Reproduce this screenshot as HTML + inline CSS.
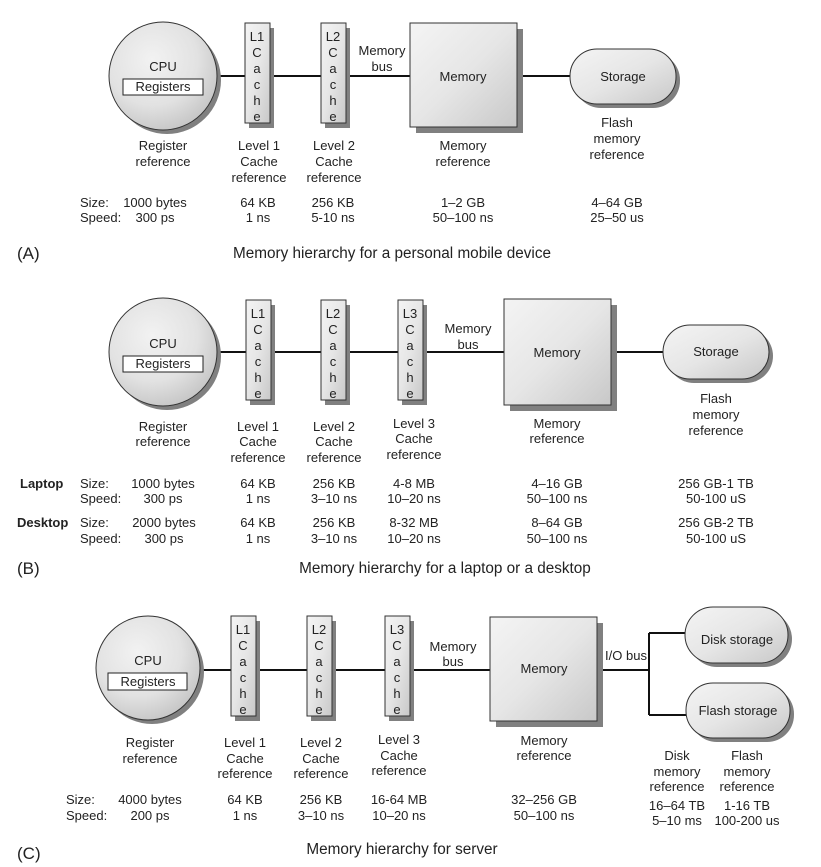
<!DOCTYPE html>
<html><head><meta charset="utf-8"><style>
html,body{margin:0;padding:0;background:#fff;}
svg{display:block;font-family:"Liberation Sans",Arial,sans-serif;}
text{font-size:13px;fill:#222;text-anchor:middle;}
.l{text-anchor:start;}
.b{font-weight:bold;}
.big{font-size:17px;}
.cap{font-size:15.3px;}
</style></head><body>
<svg width="821" height="867" viewBox="0 0 821 867" xmlns="http://www.w3.org/2000/svg">
<defs>
<linearGradient id="g" x1="0" y1="0" x2="1" y2="1">
<stop offset="0" stop-color="#f4f4f4"/><stop offset="0.5" stop-color="#e6e6e6"/><stop offset="1" stop-color="#c8c8c8"/>
</linearGradient>
<radialGradient id="rg" cx="0.4" cy="0.35" r="0.7">
<stop offset="0" stop-color="#f2f2f2"/><stop offset="0.6" stop-color="#e2e2e2"/><stop offset="1" stop-color="#c4c4c4"/>
</radialGradient>
</defs>
<g stroke="#111" stroke-width="2" fill="none">
<line x1="216" y1="76" x2="570" y2="76"/>
<line x1="216" y1="352" x2="663" y2="352"/>
<line x1="200" y1="670" x2="649" y2="670"/>
<polyline points="649,633 649,715"/>
<line x1="649" y1="633" x2="686" y2="633"/>
<line x1="649" y1="715" x2="686" y2="715"/>
</g>

<!-- ===== Panel A ===== -->
<circle cx="167" cy="80" r="54" fill="#808080"/>
<circle cx="163" cy="76" r="54" fill="url(#rg)" stroke="#333" stroke-width="1"/>
<rect x="123" y="79" width="80" height="16" fill="#fff" stroke="#222"/>
<text x="163" y="71">CPU</text><text x="163" y="91">Registers</text>

<rect x="249" y="28" width="25" height="100" fill="#808080"/>
<rect x="245" y="23" width="25" height="100" fill="url(#g)" stroke="#333"/>
<text x="257" y="41">L1</text><text x="257" y="57">C</text><text x="257" y="73">a</text><text x="257" y="89">c</text><text x="257" y="105">h</text><text x="257" y="121">e</text>
<rect x="325" y="28" width="25" height="100" fill="#808080"/>
<rect x="321" y="23" width="25" height="100" fill="url(#g)" stroke="#333"/>
<text x="333" y="41">L2</text><text x="333" y="57">C</text><text x="333" y="73">a</text><text x="333" y="89">c</text><text x="333" y="105">h</text><text x="333" y="121">e</text>
<text x="382" y="55">Memory</text><text x="382" y="71">bus</text>

<rect x="416" y="29" width="107" height="104" fill="#808080"/>
<rect x="410" y="23" width="107" height="104" fill="url(#g)" stroke="#333"/>
<text x="463" y="81">Memory</text>

<rect x="574" y="53" width="106" height="55" rx="27" fill="#808080"/>
<rect x="570" y="49" width="106" height="55" rx="27" fill="url(#g)" stroke="#333"/>
<text x="623" y="81">Storage</text>

<text x="163" y="150">Register</text><text x="163" y="166">reference</text>
<text x="259" y="150">Level 1</text><text x="259" y="166">Cache</text><text x="259" y="182">reference</text>
<text x="334" y="150">Level 2</text><text x="334" y="166">Cache</text><text x="334" y="182">reference</text>
<text x="463" y="150">Memory</text><text x="463" y="166">reference</text>
<text x="617" y="127">Flash</text><text x="617" y="143">memory</text><text x="617" y="159">reference</text>
<text class="l" x="80" y="207">Size:</text><text class="l" x="80" y="222">Speed:</text>
<text x="155" y="207">1000 bytes</text><text x="155" y="222">300 ps</text>
<text x="258" y="207">64 KB</text><text x="258" y="222">1 ns</text>
<text x="333" y="207">256 KB</text><text x="333" y="222">5-10 ns</text>
<text x="463" y="207">1–2 GB</text><text x="463" y="222">50–100 ns</text>
<text x="617" y="207">4–64 GB</text><text x="617" y="222">25–50 us</text>
<text class="l big" x="17" y="259">(A)</text>
<text class="cap" x="392" y="258">Memory hierarchy for a personal mobile device</text>

<!-- ===== Panel B ===== -->
<circle cx="167" cy="356" r="54" fill="#808080"/>
<circle cx="163" cy="352" r="54" fill="url(#rg)" stroke="#333" stroke-width="1"/>
<rect x="123" y="356" width="80" height="16" fill="#fff" stroke="#222"/>
<text x="163" y="348">CPU</text><text x="163" y="368">Registers</text>

<rect x="250" y="305" width="25" height="100" fill="#808080"/>
<rect x="246" y="300" width="25" height="100" fill="url(#g)" stroke="#333"/>
<text x="258" y="318">L1</text><text x="258" y="334">C</text><text x="258" y="350">a</text><text x="258" y="366">c</text><text x="258" y="382">h</text><text x="258" y="398">e</text>
<rect x="325" y="305" width="25" height="100" fill="#808080"/>
<rect x="321" y="300" width="25" height="100" fill="url(#g)" stroke="#333"/>
<text x="333" y="318">L2</text><text x="333" y="334">C</text><text x="333" y="350">a</text><text x="333" y="366">c</text><text x="333" y="382">h</text><text x="333" y="398">e</text>
<rect x="402" y="305" width="25" height="100" fill="#808080"/>
<rect x="398" y="300" width="25" height="100" fill="url(#g)" stroke="#333"/>
<text x="410" y="318">L3</text><text x="410" y="334">C</text><text x="410" y="350">a</text><text x="410" y="366">c</text><text x="410" y="382">h</text><text x="410" y="398">e</text>
<text x="468" y="333">Memory</text><text x="468" y="349">bus</text>

<rect x="510" y="305" width="107" height="106" fill="#808080"/>
<rect x="504" y="299" width="107" height="106" fill="url(#g)" stroke="#333"/>
<text x="557" y="357">Memory</text>

<rect x="667" y="329" width="106" height="54" rx="27" fill="#808080"/>
<rect x="663" y="325" width="106" height="54" rx="27" fill="url(#g)" stroke="#333"/>
<text x="716" y="356">Storage</text>

<text x="163" y="431">Register</text><text x="163" y="446">reference</text>
<text x="258" y="431">Level 1</text><text x="258" y="446">Cache</text><text x="258" y="462">reference</text>
<text x="334" y="431">Level 2</text><text x="334" y="446">Cache</text><text x="334" y="462">reference</text>
<text x="414" y="428">Level 3</text><text x="414" y="443">Cache</text><text x="414" y="459">reference</text>
<text x="557" y="428">Memory</text><text x="557" y="443">reference</text>
<text x="716" y="403">Flash</text><text x="716" y="419">memory</text><text x="716" y="435">reference</text>
<text class="l b" x="20" y="488">Laptop</text>
<text class="l" x="80" y="488">Size:</text><text class="l" x="80" y="503">Speed:</text>
<text x="163" y="488">1000 bytes</text><text x="163" y="503">300 ps</text>
<text x="258" y="488">64 KB</text><text x="258" y="503">1 ns</text>
<text x="334" y="488">256 KB</text><text x="334" y="503">3–10 ns</text>
<text x="414" y="488">4-8 MB</text><text x="414" y="503">10–20 ns</text>
<text x="557" y="488">4–16 GB</text><text x="557" y="503">50–100 ns</text>
<text x="716" y="488">256 GB-1 TB</text><text x="716" y="503">50-100 uS</text>
<text class="l b" x="17" y="527">Desktop</text>
<text class="l" x="80" y="527">Size:</text><text class="l" x="80" y="543">Speed:</text>
<text x="164" y="527">2000 bytes</text><text x="164" y="543">300 ps</text>
<text x="258" y="527">64 KB</text><text x="258" y="543">1 ns</text>
<text x="334" y="527">256 KB</text><text x="334" y="543">3–10 ns</text>
<text x="414" y="527">8-32  MB</text><text x="414" y="543">10–20 ns</text>
<text x="557" y="527">8–64 GB</text><text x="557" y="543">50–100 ns</text>
<text x="716" y="527">256 GB-2 TB</text><text x="716" y="543">50-100 uS</text>
<text class="l big" x="17" y="574">(B)</text>
<text class="cap" x="445" y="573">Memory hierarchy for a laptop or a desktop</text>

<!-- ===== Panel C ===== -->
<circle cx="152" cy="672" r="52" fill="#808080"/>
<circle cx="148" cy="668" r="52" fill="url(#rg)" stroke="#333" stroke-width="1"/>
<rect x="108" y="673" width="79" height="17" fill="#fff" stroke="#222"/>
<text x="148" y="665">CPU</text><text x="148" y="686">Registers</text>

<rect x="235" y="621" width="25" height="100" fill="#808080"/>
<rect x="231" y="616" width="25" height="100" fill="url(#g)" stroke="#333"/>
<text x="243" y="634">L1</text><text x="243" y="650">C</text><text x="243" y="666">a</text><text x="243" y="682">c</text><text x="243" y="698">h</text><text x="243" y="714">e</text>
<rect x="311" y="621" width="25" height="100" fill="#808080"/>
<rect x="307" y="616" width="25" height="100" fill="url(#g)" stroke="#333"/>
<text x="319" y="634">L2</text><text x="319" y="650">C</text><text x="319" y="666">a</text><text x="319" y="682">c</text><text x="319" y="698">h</text><text x="319" y="714">e</text>
<rect x="389" y="621" width="25" height="100" fill="#808080"/>
<rect x="385" y="616" width="25" height="100" fill="url(#g)" stroke="#333"/>
<text x="397" y="634">L3</text><text x="397" y="650">C</text><text x="397" y="666">a</text><text x="397" y="682">c</text><text x="397" y="698">h</text><text x="397" y="714">e</text>
<text x="453" y="651">Memory</text><text x="453" y="666">bus</text>

<rect x="496" y="623" width="107" height="104" fill="#808080"/>
<rect x="490" y="617" width="107" height="104" fill="url(#g)" stroke="#333"/>
<text x="544" y="673">Memory</text>
<text x="626" y="660">I/O bus</text>

<rect x="689" y="611" width="103" height="56" rx="28" fill="#808080"/>
<rect x="685" y="607" width="103" height="56" rx="28" fill="url(#g)" stroke="#333"/>
<text x="737" y="644">Disk storage</text>
<rect x="690" y="687" width="104" height="55" rx="27" fill="#808080"/>
<rect x="686" y="683" width="104" height="55" rx="27" fill="url(#g)" stroke="#333"/>
<text x="738" y="715">Flash storage</text>

<text x="150" y="747">Register</text><text x="150" y="763">reference</text>
<text x="245" y="747">Level 1</text><text x="245" y="763">Cache</text><text x="245" y="778">reference</text>
<text x="321" y="747">Level 2</text><text x="321" y="763">Cache</text><text x="321" y="778">reference</text>
<text x="399" y="744">Level 3</text><text x="399" y="760">Cache</text><text x="399" y="775">reference</text>
<text x="544" y="745">Memory</text><text x="544" y="760">reference</text>
<text x="677" y="760">Disk</text><text x="677" y="776">memory</text><text x="677" y="791">reference</text>
<text x="747" y="760">Flash</text><text x="747" y="776">memory</text><text x="747" y="791">reference</text>
<text class="l" x="66" y="804">Size:</text><text class="l" x="66" y="820">Speed:</text>
<text x="150" y="804">4000 bytes</text><text x="150" y="820">200 ps</text>
<text x="245" y="804">64 KB</text><text x="245" y="820">1 ns</text>
<text x="321" y="804">256 KB</text><text x="321" y="820">3–10 ns</text>
<text x="399" y="804">16-64 MB</text><text x="399" y="820">10–20 ns</text>
<text x="544" y="804">32–256 GB</text><text x="544" y="820">50–100 ns</text>
<text x="677" y="810">16–64 TB</text><text x="677" y="825">5–10 ms</text>
<text x="747" y="810">1-16 TB</text><text x="747" y="825">100-200 us</text>
<text class="l big" x="17" y="859">(C)</text>
<text class="cap" x="402" y="854">Memory hierarchy for server</text>
</svg>
</body></html>
